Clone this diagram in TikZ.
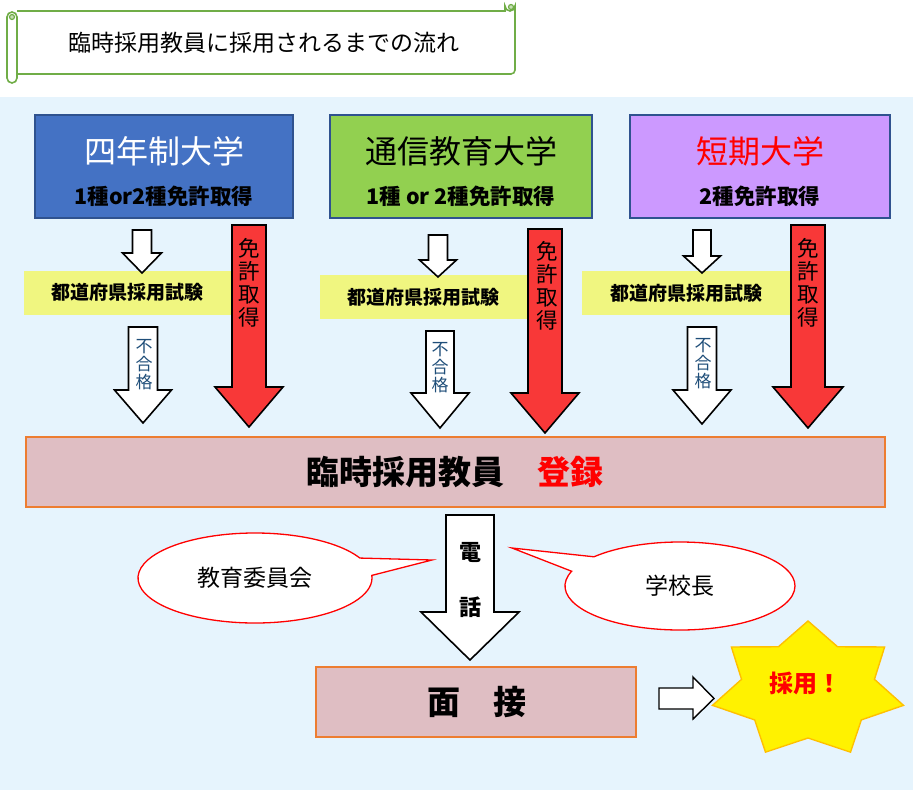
\documentclass[tikz,border=0pt]{standalone}
\usepackage{fontspec}
\setmainfont{Noto Sans CJK JP}
\usetikzlibrary{shapes.callouts}

\definecolor{haikei}{RGB}{230,244,253}
\definecolor{makimono}{RGB}{112,173,71}
\definecolor{waku}{RGB}{47,82,143}
\definecolor{ao}{RGB}{68,114,196}
\definecolor{midori}{RGB}{146,208,80}
\definecolor{murasaki}{RGB}{204,153,255}
\definecolor{kiiro}{RGB}{240,246,128}
\definecolor{aka}{RGB}{248,56,56}
\definecolor{momo}{RGB}{223,190,195}
\definecolor{daidai}{RGB}{237,125,49}
\definecolor{kon}{RGB}{31,78,121}
\definecolor{hoshi}{RGB}{255,192,0}

% 下向きの矢印 (スタイル, 中心x, 上端, 軸の下端, 先端, 軸の半幅, 頭の半幅)
\newcommand{\shitaya}[7]{%
  \draw[#1] (#2-#6,#3) -- (#2+#6,#3) -- (#2+#6,#4) -- (#2+#7,#4)
    -- (#2,#5) -- (#2-#7,#4) -- (#2-#6,#4) -- cycle;}

\tikzset{
  daigaku/.style={draw=waku, line width=1.6pt, minimum width=258, minimum height=103, inner sep=0pt},
  meisho/.style={font=\fontsize{32}{36}\selectfont},
  menkyo/.style={font=\fontsize{21.5}{25}\selectfont\bfseries},
  shiken/.style={fill=kiiro, minimum width=208, minimum height=44, inner sep=0pt,
    font=\fontsize{19}{22}\selectfont\bfseries},
  shiro/.style={draw=black, fill=white, line width=1.6pt},
  akaya/.style={draw=black, fill=aka, line width=1.6pt},
  tate/.style={align=center, inner sep=0pt, font=\fontsize{21.5}{23}\selectfont},
  fugoukaku/.style={align=center, inner sep=0pt, text=kon, font=\fontsize{17}{18}\selectfont},
  fukidashi/.style={ellipse callout, draw=red, line width=1.3pt, fill=white,
    font=\fontsize{23}{27}\selectfont},
  momobako/.style={draw=daidai, line width=1.8pt, fill=momo, inner sep=0pt}
}

\begin{document}
\begin{tikzpicture}[x=1pt, y=-1pt]

    \useasboundingbox (0,0) rectangle (913,790);

    % 背景
    \fill[haikei] (0,97) rectangle (913,790);

    % 巻物のタイトル
    \draw[makimono, line width=1.6pt, fill=white]
        (17,11) -- (505,11) -- (505,6) arc[start angle=180, end angle=0, radius=5]
        -- (515,70) arc[start angle=0, end angle=90, radius=4] -- (17,74);
    \filldraw[makimono, line width=1.2pt, fill=makimono!40] (511,7) circle (2.5);
    \draw[makimono, line width=1.6pt, fill=white, rounded corners=5] (7,12) rectangle (17,83);
    \filldraw[makimono, line width=1.2pt, fill=makimono!40] (12,17) circle (2.5);
    \node[font=\fontsize{23}{27}\selectfont] (title) at (264,43) {臨時採用教員に採用されるまでの流れ};

    % 大学の箱
    \node[daigaku, fill=ao] (yonen) at (164,166.5) {};
    \node[meisho, text=white] (yonenmei) at (164,151) {四年制大学};
    \node[menkyo] (yonenmen) at (164,196) {1種or2種免許取得};

    \node[daigaku, fill=midori, minimum width=262] (tsushin) at (461,166.5) {};
    \node[meisho] (tsushinmei) at (461,151) {通信教育大学};
    \node[menkyo] (tsushinmen) at (461,196) {1種 or 2種免許取得};

    \node[daigaku, fill=murasaki, minimum width=260] (tanki) at (760,166.5) {};
    \node[meisho, text=red] (tankimei) at (760,151) {短期大学};
    \node[menkyo] (tankimen) at (760,196) {2種免許取得};

    % 都道府県採用試験
    \node[shiken] (shiken1) at (127.5,292.5) {都道府県採用試験};
    \node[shiken] (shiken2) at (423.5,297) {都道府県採用試験};
    \node[shiken] (shiken3) at (686,293) {都道府県採用試験};

    % 白い矢印
    \shitaya{shiro}{142}{230}{253}{273}{9.5}{19.5}
    \shitaya{shiro}{438}{235}{260}{277}{9.5}{18.5}
    \shitaya{shiro}{702}{230}{256}{273}{9}{18.5}
    \shitaya{shiro}{143}{327}{390}{423}{14.5}{28.5}
    \shitaya{shiro}{440}{331}{393}{428}{14}{29}
    \shitaya{shiro}{702}{327}{390}{424}{14.5}{29}
    \node[fugoukaku] (fugou1) at (144,365) {不\\合\\格};
    \node[fugoukaku] (fugou2) at (440,368) {不\\合\\格};
    \node[fugoukaku] (fugou3) at (703,364) {不\\合\\格};

    % 赤い矢印 (免許取得)
    \shitaya{akaya}{249}{225}{387}{427}{17}{34}
    \shitaya{akaya}{545}{229}{393}{433}{17}{34}
    \shitaya{akaya}{808}{225}{387}{428}{17}{35}
    \node[tate] (menkyo1) at (249,283) {免\\許\\取\\得};
    \node[tate] (menkyo2) at (547,286) {免\\許\\取\\得};
    \node[tate] (menkyo3) at (808,283) {免\\許\\取\\得};

    % 登録
    \node[momobako, minimum width=859, minimum height=70] (toroku) at (455.5,472) {};
    \node[font=\fontsize{33}{38}\selectfont\bfseries] (torokumoji) at (455,472)
        {臨時採用教員　\textcolor{red}{登録}};

    % 電話
    \shitaya{shiro}{470}{515}{612}{660}{24}{49}
    \node[font=\fontsize{22}{26}\selectfont\bfseries] (den) at (470,552) {電};
    \node[font=\fontsize{22}{26}\selectfont\bfseries] (wa) at (470,607) {話};

    % 吹き出し
    \node[fukidashi, minimum width=234, minimum height=90, callout pointer arc=23,
        callout absolute pointer={(432,560)}] (kyoiku) at (255,578) {教育委員会};
    \node[fukidashi, minimum width=230, minimum height=88, callout pointer arc=22,
        callout absolute pointer={(512,548)}] (kocho) at (680,586) {学校長};

    % 面接
    \node[momobako, minimum width=320, minimum height=70] (mensetsu) at (476,702) {};
    \node[font=\fontsize{33}{38}\selectfont\bfseries] (mensetsumoji) at (477,702) {面　接};

    % 右向きの矢印
    \draw[draw=black, fill=white, line width=1.4pt]
        (659,688) -- (693,688) -- (693,677) -- (714,698.5) -- (693,719) -- (693,709) -- (659,709) -- cycle;

    % 星
    \draw[hoshi, line width=1.4pt, fill=yellow] (808,621)
        \foreach \k/\r in {1/48,2/69,3/48,4/69,5/48,6/69,7/48,8/69,9/48,10/69,11/48,12/69,13/48}
        { -- ({808+1.42*\r*cos(90+\k*180/7)}, {690-\r*sin(90+\k*180/7)}) } -- cycle;
    \node[text=red, font=\fontsize{24}{28}\selectfont\bfseries] (saiyo) at (805,683) {採用！};

\end{tikzpicture}
\end{document}
